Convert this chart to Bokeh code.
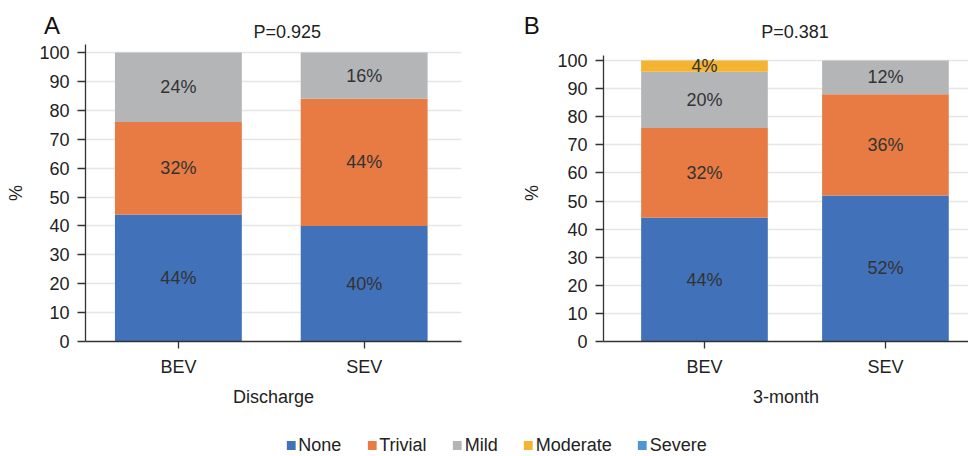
import numpy as np
from bokeh.plotting import figure
from bokeh.layouts import column, row
from bokeh.models import Range1d, FixedTicker, Legend, LegendItem
from bokeh.core.properties import value
from bokeh.embed import file_html
from bokeh.resources import INLINE

FONT = "Liberation Sans"

categories = ["BEV", "SEV"]
grades = ["None", "Trivial", "Mild", "Moderate", "Severe"]
colors = ["#4171B9", "#E77B43", "#B4B5B7", "#F4B331", "#5095D3"]

discharge_bev = [44, 32, 24, 0, 0]
discharge_sev = [40, 44, 16, 0, 0]
month3_bev = [44, 32, 20, 4, 0]
month3_sev = [52, 36, 12, 0, 0]

y_ticks = [0, 10, 20, 30, 40, 50, 60, 70, 80, 90, 100]
panel_letters = ["A", "B"]
p_values = ["P=0.925", "P=0.381"]
x_titles = ["Discharge", "3-month"]

HEAD = 44
R = 390
LEG = 21
BOTTOM = R - 297
TEXT_SIZE = "18px"


def make_panel(vals, xlabel, width, xr, y_end, axis_top, bar_w, bl, br,
               ylab_standoff):
    p = figure(width=width, height=R, x_range=Range1d(*xr),
               y_range=Range1d(0, y_end), output_backend="svg",
               toolbar_location=None, min_border_left=bl, min_border_right=br,
               min_border_top=0, min_border_bottom=BOTTOM)
    xs = np.arange(len(categories)) + 0.5
    data = np.array(vals, dtype=float).T  # grades x categories
    tops = np.cumsum(data, axis=0)
    bottoms = tops - data
    for i, g in enumerate(grades):
        p.vbar(x=xs, bottom=bottoms[i], top=tops[i], width=bar_w,
               fill_color=colors[i], line_color=None)
    lx, ly, lt = [], [], []
    for i in range(len(grades)):
        for j in range(len(categories)):
            if data[i, j] > 0:
                lx.append(xs[j])
                ly.append((bottoms[i, j] + tops[i, j]) / 2)
                lt.append(f"{data[i, j]:g}%")
    p.text(x=lx, y=ly, text=lt, text_align="center", text_baseline="middle",
           text_font=value(FONT), text_font_size=TEXT_SIZE, text_color="#333333")

    p.outline_line_color = None
    p.xgrid.visible = False
    p.ygrid.ticker = FixedTicker(ticks=y_ticks)
    p.ygrid.grid_line_color = "#E6E6E6"
    p.ygrid.grid_line_width = 1.5

    p.xaxis.ticker = FixedTicker(ticks=list(xs))
    p.xaxis.major_label_overrides = {float(x): c for x, c in zip(xs, categories)}
    p.yaxis.ticker = FixedTicker(ticks=y_ticks)
    p.yaxis.bounds = (0, axis_top)
    for ax in (p.xaxis, p.yaxis):
        ax.axis_line_color = "#333333"
        ax.axis_line_width = 1.3
        ax.major_tick_line_color = "#333333"
        ax.major_tick_line_width = 1.3
        ax.major_tick_in = 0
        ax.minor_tick_line_color = None
        ax.major_label_text_font = FONT
        ax.major_label_text_font_size = TEXT_SIZE
        ax.major_label_text_color = "#222222"
        ax.axis_label_text_font = FONT
        ax.axis_label_text_font_size = TEXT_SIZE
        ax.axis_label_text_font_style = "normal"
        ax.axis_label_text_color = "#222222"
    p.xaxis.major_tick_out = 7
    p.xaxis.major_label_standoff = 8
    p.xaxis.axis_label = xlabel
    p.xaxis.axis_label_standoff = 7
    p.yaxis.major_tick_out = 8
    p.yaxis.major_label_standoff = 8
    p.yaxis.axis_label = "%"
    p.yaxis.axis_label_standoff = ylab_standoff
    return p


# header with panel letters and P values
head = figure(width=968, height=HEAD, x_range=Range1d(0, 968),
              y_range=Range1d(HEAD, 0), output_backend="svg",
              toolbar_location=None, x_axis_location=None, y_axis_location=None,
              min_border_left=0, min_border_right=0, min_border_top=0,
              min_border_bottom=0)
head.outline_line_color = None
head.grid.visible = False
head.text(x=[20, 512], y=[25, 25], text=panel_letters, text_align="left",
          text_baseline="middle", text_font=value(FONT),
          text_font_size="24px", text_color="#111111")
head.text(x=[269.5, 790], y=[31, 31], text=p_values, text_align="center",
          text_baseline="middle", text_font=value(FONT),
          text_font_size=TEXT_SIZE, text_color="#222222")

pA = make_panel([discharge_bev, discharge_sev], x_titles[0], 480,
                (0.0, 2.024), 102.8, 102.8, 0.683, 85, 19, 10)
pB = make_panel([month3_bev, month3_sev], x_titles[1], 488,
                (-0.058, 1.959), 105.7, 101.8, 0.70, 123, 0, 12)

leg = figure(width=968, height=LEG, x_range=Range1d(0, 1), y_range=Range1d(0, 1),
             output_backend="svg", toolbar_location=None,
             x_axis_location=None, y_axis_location=None,
             min_border_left=24, min_border_right=0, min_border_top=0,
             min_border_bottom=0)
leg.outline_line_color = None
leg.grid.visible = False
items = []
for g, c in zip(grades, colors):
    r = leg.vbar(x=[-10], top=[-10], bottom=[-11], width=0.5,
                 fill_color=c, line_color=None)
    items.append(LegendItem(label=g, renderers=[r]))
legend = Legend(items=items, orientation="horizontal", location="center",
                glyph_width=11, glyph_height=11, label_standoff=2, spacing=25,
                padding=0, margin=0, border_line_color=None,
                background_fill_alpha=0, label_text_font=FONT,
                label_text_font_size=TEXT_SIZE, label_text_color="#222222")
leg.add_layout(legend, "center")

layout = column(head, row(pA, pB), leg)
open("out.html", "w").write(file_html(layout, INLINE))
